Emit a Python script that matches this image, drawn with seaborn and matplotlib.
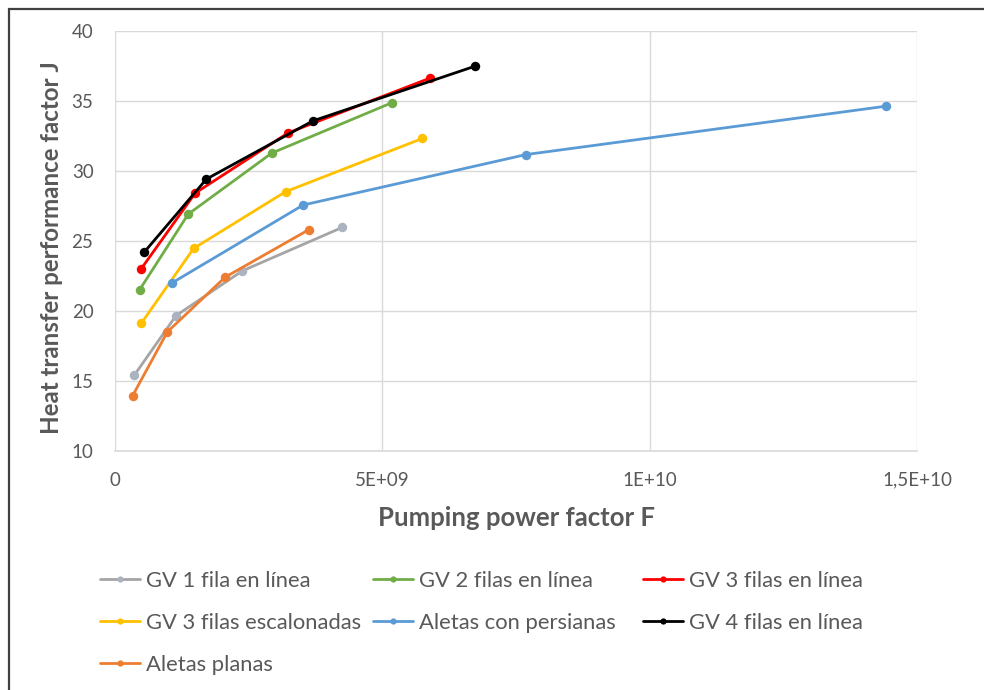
import matplotlib
matplotlib.use("Agg")
import matplotlib.pyplot as plt
import seaborn as sns
import pandas as pd
from matplotlib.lines import Line2D
from matplotlib.patches import Rectangle

# Series labels, line colours and marker colours (in drawing order)
series = [
    "GV 1 fila en línea",
    "GV 2 filas en línea",
    "GV 3 filas en línea",
    "GV 3 filas escalonadas",
    "Aletas con persianas",
    "GV 4 filas en línea",
    "Aletas planas",
]
colors = ["#A5A5A5", "#70AD47", "#FF0000", "#FFC000", "#5B9BD5", "#000000", "#ED7D31"]
marker_colors = ["#AAB3BF", "#70AD47", "#FF0000", "#FFC000", "#5B9BD5", "#000000", "#ED7D31"]

# Pumping power factor F and performance factor J for each configuration
gv1_F = [0.36e9, 1.14e9, 2.38e9, 4.25e9]
gv1_J = [15.4, 19.65, 22.85, 25.95]

gv2_F = [0.46e9, 1.37e9, 2.93e9, 5.18e9]
gv2_J = [21.5, 26.9, 31.25, 34.85]

gv3_F = [0.49e9, 1.50e9, 3.24e9, 5.89e9]
gv3_J = [23.0, 28.4, 32.7, 36.6]

gv3e_F = [0.49e9, 1.47e9, 3.19e9, 5.75e9]
gv3e_J = [19.1, 24.45, 28.5, 32.3]

pers_F = [1.07e9, 3.52e9, 7.69e9, 14.42e9]
pers_J = [22.0, 27.55, 31.15, 34.6]

gv4_F = [0.55e9, 1.71e9, 3.70e9, 6.73e9]
gv4_J = [24.2, 29.4, 33.55, 37.45]

planas_F = [0.33e9, 0.98e9, 2.06e9, 3.63e9]
planas_J = [13.95, 18.5, 22.4, 25.8]

x_ticks = [0, 5e9, 1e10, 1.5e10]
x_ticklabels = ["0", "5E+09", "1E+10", "1,5E+10"]
y_ticks = [10, 15, 20, 25, 30, 35, 40]

all_F = [gv1_F, gv2_F, gv3_F, gv3e_F, pers_F, gv4_F, planas_F]
all_J = [gv1_J, gv2_J, gv3_J, gv3e_J, pers_J, gv4_J, planas_J]

frames = []
for name, F, J in zip(series, all_F, all_J):
    frames.append(pd.DataFrame({"F": F, "J": J, "serie": name}))
df = pd.concat(frames, ignore_index=True)

sns.set_theme(style="white")
plt.rcParams["font.family"] = ["Lato", "DejaVu Sans"]

TEXT = "#595959"
GRID = "#D9D9D9"

W, H = 984, 690
fig = plt.figure(figsize=(W / 100, H / 100), dpi=100)
ax = fig.add_axes([115 / W, 1 - 451 / H, (917 - 115) / W, (451 - 30.5) / H])

for name, col, mcol in zip(series, colors, marker_colors):
    sns.lineplot(
        data=df[df["serie"] == name], x="F", y="J", ax=ax,
        color=col, linewidth=2.0, marker="o", markersize=6.8,
        markerfacecolor=mcol, markeredgewidth=0, estimator=None,
        sort=False, label=name, legend=False,
    )

ax.set_xlim(0, 1.5e10)
ax.set_ylim(10, 40)
ax.set_xticks(x_ticks)
ax.set_xticklabels(x_ticklabels)
ax.set_yticks(y_ticks)
ax.grid(True, color=GRID, linewidth=1.0)
ax.set_axisbelow(True)
for side in ["top", "right", "left"]:
    ax.spines[side].set_visible(False)
ax.spines["bottom"].set_color(GRID)
ax.spines["bottom"].set_linewidth(1.2)
ax.tick_params(axis="both", length=0, labelsize=13.5, colors=TEXT)
ax.tick_params(axis="x", pad=15)
ax.tick_params(axis="y", pad=15.5)

ax.set_xlabel("Pumping power factor F", fontsize=18.5, fontweight="bold",
              color=TEXT, labelpad=12)
ax.set_ylabel("Heat transfer performance factor J", fontsize=17.4,
              fontweight="bold", color=TEXT)
ax.yaxis.set_label_coords((63 - 115) / 802, (451 - 248) / 420.5)

# Legend laid out row by row in three columns
columns = [[0, 3, 6], [1, 4], [2, 5]]
col_x = [100, 373, 643]
for idx, x0 in zip(columns, col_x):
    handles = [
        Line2D([0], [0], color=colors[i], linewidth=2.0, marker="o",
               markersize=4.5, markerfacecolor=marker_colors[i],
               markeredgewidth=0)
        for i in idx
    ]
    leg = fig.legend(
        handles, [series[i] for i in idx], loc="upper left",
        bbox_to_anchor=(x0 / W, 1 - 571 / H), frameon=False,
        fontsize=15.8, handlelength=1.83, handletextpad=0.25,
        labelspacing=1.0, borderaxespad=0, borderpad=0,
    )
    for t in leg.get_texts():
        t.set_color(TEXT)

# Outer chart frame
fig.patches.append(Rectangle((8.5 / W, -0.05), 1.2, 1 - 8.5 / H + 0.05,
                             transform=fig.transFigure, fill=False,
                             edgecolor="#404040", linewidth=1.6))

fig.savefig("out.png", dpi=100, facecolor="white")
